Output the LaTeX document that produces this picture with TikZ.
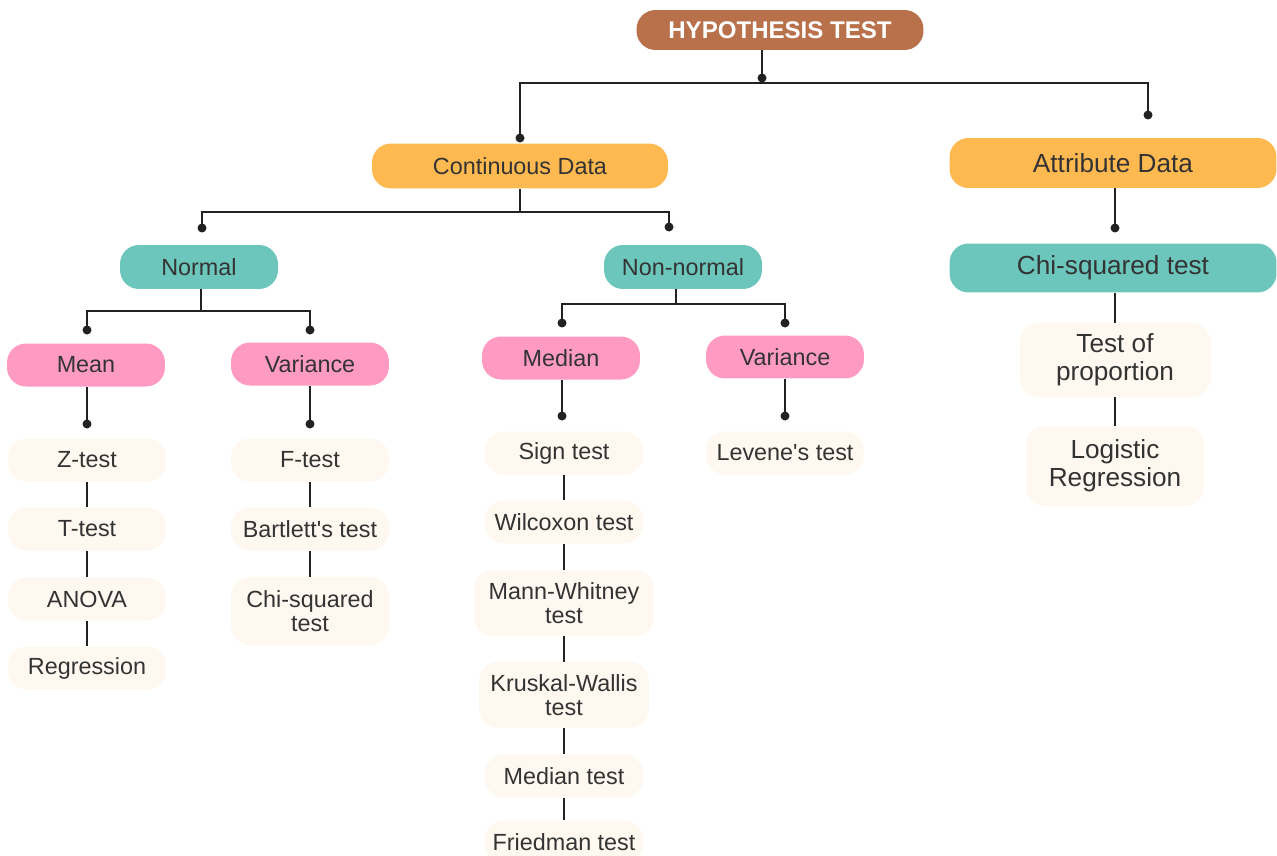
\documentclass[tikz,border=0pt]{standalone}
\usepackage{fontspec}
\setmainfont{Liberation Sans}
\usepackage{xcolor}
\usetikzlibrary{positioning}

\definecolor{brownc}{HTML}{B8714B}
\definecolor{orangec}{HTML}{FFB951}
\definecolor{tealc}{HTML}{6CC6BB}
\definecolor{pinkc}{HTML}{FF9BC2}
\definecolor{creamc}{HTML}{FFF8F0}
\definecolor{txtc}{HTML}{333333}
\definecolor{linec}{HTML}{222222}

\tikzset{
  pill/.style={rounded corners=0.38cm, align=center, text=txtc, inner sep=0pt,
    font=\fontsize{13.3}{14}\selectfont},
  bigpill/.style={pill, font=\fontsize{14.9}{16}\selectfont},
  htbox/.style={pill, fill=brownc, text=white, font=\bfseries\fontsize{13.7}{15}\selectfont,
    minimum width=5.74cm, minimum height=0.8cm},
  databox/.style={fill=orangec},
  groupbox/.style={pill, fill=tealc, minimum width=3.16cm, minimum height=0.88cm},
  parambox/.style={pill, fill=pinkc, minimum width=3.16cm, minimum height=0.86cm},
  testbox/.style={pill, fill=creamc, minimum width=3.16cm, minimum height=0.86cm},
  link/.style={draw=linec, line width=1.1pt},
  jdot/.style={circle, fill=linec, inner sep=0pt, minimum size=0.18cm},
}

\begin{document}
\begin{tikzpicture}[x=0.02cm, y=-0.02cm]
\clip (0,0) rectangle (1277,855);

% top levels
\node (ht) at (780,30) [htbox] {HYPOTHESIS TEST};
\node (cd) at (520,166) [pill, databox, minimum width=5.92cm, minimum height=0.9cm] {Continuous Data};
\node (ad) at (1113,163) [bigpill, databox, minimum width=6.54cm, minimum height=1cm] {Attribute Data};
\node (nrm) at (199,267) [groupbox] {Normal};
\node (non) at (683,267) [groupbox] {Non-normal};
\node (chi) at (1113,268) [bigpill, fill=tealc, minimum width=6.54cm, minimum height=0.98cm] {Chi-squared test};
\node (mean) at (86,365) [parambox] {Mean};
\node (var1) at (310,364) [parambox] {Variance};
\node (med) at (561,358) [parambox] {Median};
\node (var2) at (785,357) [parambox] {Variance};

% tests
\node (zt) at (87,460) [testbox] {Z-test};
\node (tt) at (87,529) [testbox] {T-test};
\node (anova) at (87,599) [testbox] {ANOVA};
\node (reg) at (87,668) [testbox] {Regression};
\node (ft) at (310,460) [testbox] {F-test};
\node (bt) at (310,529) [testbox] {Bartlett\textquotesingle s test};
\node (cs) at (310,611) [testbox, minimum height=1.36cm] {Chi-squared\\test};
\node (sg) at (564,453) [testbox] {Sign test};
\node (wx) at (564,522) [testbox] {Wilcoxon test};
\node (mw) at (564,603) [testbox, minimum width=3.6cm, minimum height=1.32cm] {Mann-Whitney\\test};
\node (kw) at (564,695) [testbox, minimum width=3.4cm, minimum height=1.32cm] {Kruskal-Wallis\\test};
\node (mt) at (564,776) [testbox] {Median test};
\node (fr) at (564,842) [testbox] {Friedman test};
\node (lv) at (785,453) [testbox] {Levene\textquotesingle s test};
\node (tp) at (1115,360) [bigpill, fill=creamc, minimum width=3.82cm, minimum height=1.48cm] {Test of\\proportion};
\node (lr) at (1115,466) [bigpill, fill=creamc, minimum width=3.56cm, minimum height=1.6cm] {Logistic\\Regression};

% junction dots
\node (d-ht) at (762,78) [jdot] {};
\node (d-cd) at (520,138) [jdot] {};
\node (d-ad) at (1148,115) [jdot] {};
\node (d-nrm) at (202,228) [jdot] {};
\node (d-non) at (669,227) [jdot] {};
\node (d-chi) at (1115,228) [jdot] {};
\node (d-mean) at (87,330) [jdot] {};
\node (d-var1) at (310,330) [jdot] {};
\node (d-med) at (562,323) [jdot] {};
\node (d-var2) at (785,323) [jdot] {};
\node (d-zt) at (87,424) [jdot] {};
\node (d-ft) at (310,424) [jdot] {};
\node (d-sg) at (562,416) [jdot] {};
\node (d-lv) at (785,416) [jdot] {};

% bar points
\coordinate (b-ht) at (762,83);
\coordinate (b-cd) at (520,212);
\coordinate (b-nrm) at (201,311);
\coordinate (b-non) at (676,304);

% connectors
\draw[link] (ht.south -| b-ht) -- (b-ht);
\draw[link] (d-cd.center) |- (b-ht) -| (d-ad.center);
\draw[link] (cd.south -| b-cd) -- (b-cd);
\draw[link] (d-nrm.center) |- (b-cd) -| (d-non.center);
\draw[link] (ad.south -| d-chi) -- (d-chi.center);
\draw[link] (nrm.south -| b-nrm) -- (b-nrm);
\draw[link] (d-mean.center) |- (b-nrm) -| (d-var1.center);
\draw[link] (non.south -| b-non) -- (b-non);
\draw[link] (d-med.center) |- (b-non) -| (d-var2.center);
\draw[link] (mean.south -| d-zt) -- (d-zt.center);
\draw[link] (var1.south -| d-ft) -- (d-ft.center);
\draw[link] (med.south -| d-sg) -- (d-sg.center);
\draw[link] (var2.south -| d-lv) -- (d-lv.center);
\draw[link] (zt) -- (tt);
\draw[link] (tt) -- (anova);
\draw[link] (anova) -- (reg);
\draw[link] (ft) -- (bt);
\draw[link] (bt) -- (cs);
\draw[link] (sg) -- (wx);
\draw[link] (wx) -- (mw);
\draw[link] (mw) -- (kw);
\draw[link] (kw) -- (mt);
\draw[link] (mt) -- (fr);
\draw[link] (chi.south -| tp) -- (tp);
\draw[link] (tp) -- (lr);
\end{tikzpicture}
\end{document}
